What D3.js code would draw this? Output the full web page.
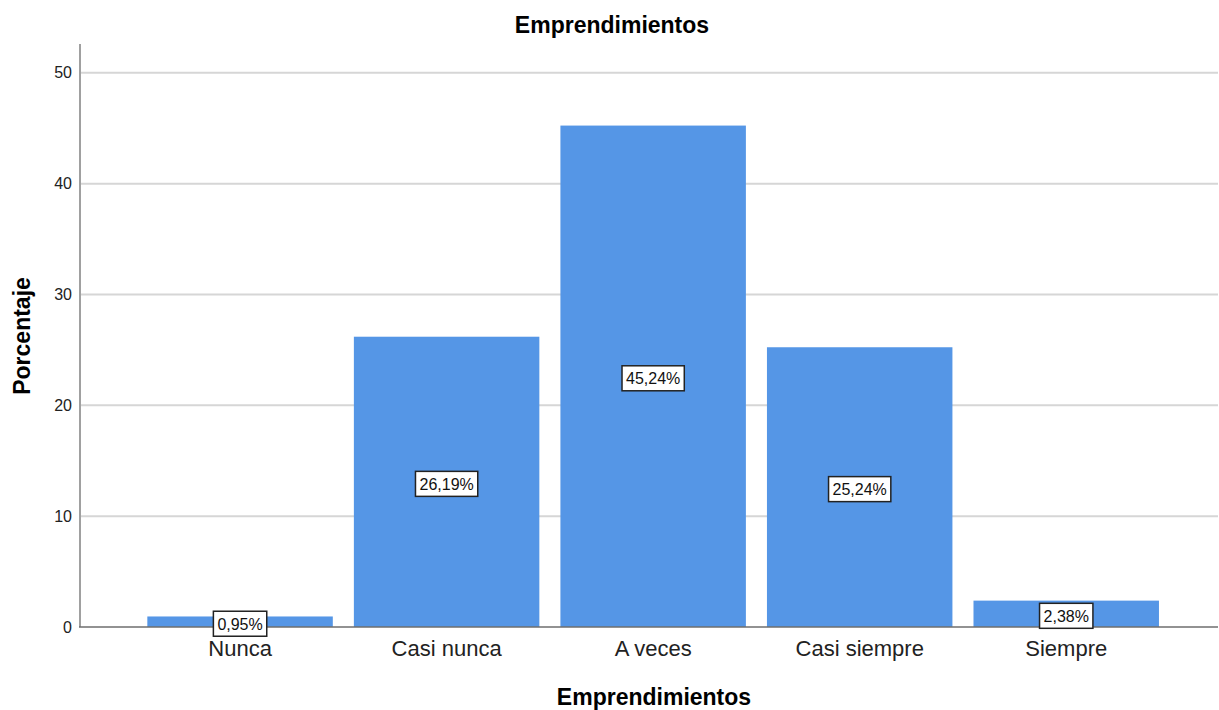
<!doctype html>
<html>
<head>
<meta charset="utf-8">
<script src="https://d3js.org/d3.v7.min.js"></script>
<style>
  body { margin: 0; background: #fff; }
  text { font-family: "Liberation Sans", Arial, sans-serif; }
</style>
</head>
<body>
<svg width="1219" height="710"></svg>
<script>
// data
var categories = ["Nunca", "Casi nunca", "A veces", "Casi siempre", "Siempre"];
var percentages = [0.95, 26.19, 45.24, 25.24, 2.38];
var valueLabels = ["0,95%", "26,19%", "45,24%", "25,24%", "2,38%"];
var yTicks = [0, 10, 20, 30, 40, 50];

var svg = d3.select("svg");

var x = d3.scaleBand().domain(categories)
    .range([136.8, 1169.5])
    .paddingInner(0.102).paddingOuter(0.051);
var y = d3.scaleLinear().domain([0, 52.6]).range([627, 44]);

// gridlines
svg.append("g")
  .selectAll("line")
  .data(yTicks.filter(function (d) { return d > 0; }))
  .enter().append("line")
  .attr("x1", 80).attr("x2", 1218)
  .attr("y1", function (d) { return y(d); })
  .attr("y2", function (d) { return y(d); })
  .style("stroke", "#d6d6d6")
  .style("stroke-width", 2);

// bars
var data = categories.map(function (c, i) { return { cat: c, v: percentages[i], lab: valueLabels[i] }; });

svg.append("g")
  .selectAll("rect")
  .data(data)
  .enter().append("rect")
  .attr("x", function (d) { return x(d.cat); })
  .attr("y", function (d) { return y(d.v); })
  .attr("width", x.bandwidth())
  .attr("height", function (d) { return y(0) - y(d.v); })
  .style("fill", "#5596e6");

// y axis
var yAxis = svg.append("g")
  .attr("transform", "translate(80,0)")
  .call(d3.axisLeft(y).tickValues(yTicks).tickSize(0).tickPadding(8));
yAxis.select(".domain").remove();
yAxis.selectAll("text")
  .style("font-size", "16px")
  .style("fill", "#222")
  .style("font-family", "'Liberation Sans', Arial, sans-serif");

svg.append("line")
  .attr("x1", 80).attr("x2", 80)
  .attr("y1", y(52.6)).attr("y2", y(0))
  .style("stroke", "#a0a0a0").style("stroke-width", 2);

// x axis
var xAxis = svg.append("g")
  .attr("transform", "translate(0," + y(0) + ")")
  .call(d3.axisBottom(x).tickSize(0).tickPadding(13));
xAxis.select(".domain").remove();
xAxis.selectAll("text")
  .style("font-size", "22px")
  .style("fill", "#222")
  .style("font-family", "'Liberation Sans', Arial, sans-serif");

svg.append("line")
  .attr("x1", 79).attr("x2", 1218)
  .attr("y1", y(0)).attr("y2", y(0))
  .style("stroke", "#6e6e6e").style("stroke-width", 1.5);

// value labels
var lab = svg.append("g")
  .selectAll("g")
  .data(data)
  .enter().append("g")
  .attr("transform", function (d) {
    return "translate(" + (x(d.cat) + x.bandwidth() / 2) + "," + ((y(d.v) + y(0)) / 2 + 2) + ")";
  });

lab.append("text")
  .attr("text-anchor", "middle")
  .attr("dy", "0.36em")
  .style("font-size", "16px")
  .style("fill", "#111")
  .text(function (d) { return d.lab; });

lab.each(function () {
  var g = d3.select(this);
  var b = g.select("text").node().getBBox();
  g.insert("rect", "text")
    .attr("x", b.x - 4).attr("y", -12.5)
    .attr("width", b.width + 8).attr("height", 25)
    .style("fill", "#fff")
    .style("stroke", "#222")
    .style("stroke-width", 1.5);
});

// titles
svg.append("text")
  .attr("x", 612).attr("y", 33)
  .attr("text-anchor", "middle")
  .style("font-size", "23px").style("font-weight", "bold")
  .text("Emprendimientos");

svg.append("text")
  .attr("x", 654).attr("y", 705)
  .attr("text-anchor", "middle")
  .style("font-size", "23px").style("font-weight", "bold")
  .text("Emprendimientos");

svg.append("text")
  .attr("transform", "translate(30,336) rotate(-90)")
  .attr("text-anchor", "middle")
  .style("font-size", "23px").style("font-weight", "bold")
  .text("Porcentaje");
</script>
</body>
</html>
